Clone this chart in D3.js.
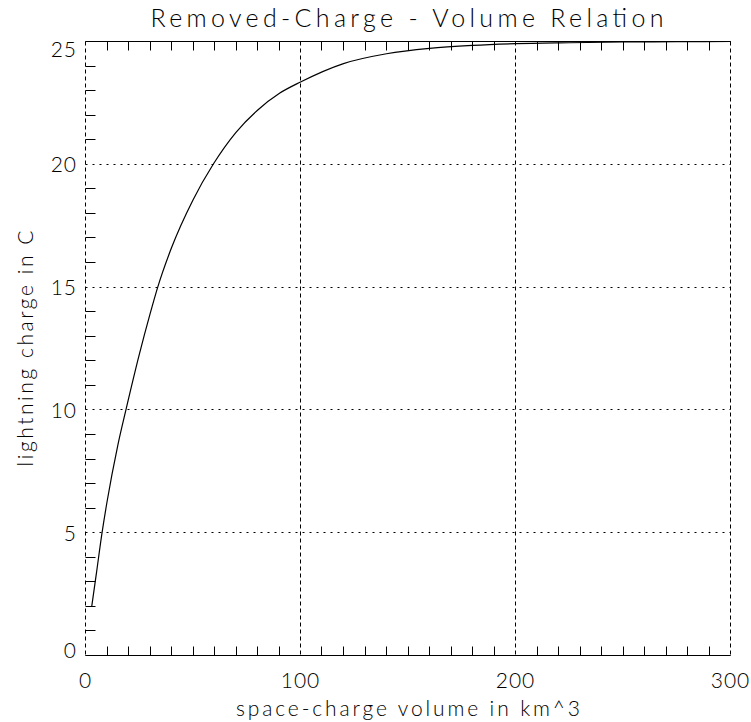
<!DOCTYPE html>
<html>
<head>
<meta charset="utf-8">
<script src="https://cdn.jsdelivr.net/npm/d3@7"></script>
<style>
  html, body { margin: 0; padding: 0; background: #fff; }
  svg { display: block; }
  text { font-family: "Lato", "DejaVu Sans", sans-serif; font-weight: 300; fill: #000; }
</style>
</head>
<body>
<svg id="chart" width="751" height="722"></svg>
<script>
// ---- data ----
const volume = [2.9, 5, 7.7, 10, 15, 18.8, 25, 30, 33.6, 40, 50, 59.4, 70, 80, 90.4, 100, 120, 140, 160, 180, 200, 225, 250, 275, 300];
const charge = [2.0, 3.3, 5.0, 6.25, 8.55, 10.0, 12.25, 13.9, 15.0, 16.6, 18.55, 20.0, 21.3, 22.2, 22.9, 23.35, 24.1, 24.5, 24.72, 24.84, 24.91, 24.95, 24.98, 24.99, 25.0];
const xMajorTicks = [0, 100, 200, 300];
const xMinorTicks = [10,20,30,40,50,60,70,80,90,110,120,130,140,150,160,170,180,190,210,220,230,240,250,260,270,280,290];
const yMajorTicks = [0, 5, 10, 15, 20, 25];
const yMinorTicks = [1,2,3,4,6,7,8,9,11,12,13,14,16,17,18,19,21,22,23,24];
const titleText = "Removed-Charge - Volume Relation";
const xTitleText = "space-charge volume in km^3";
const yTitleText = "lightning charge in C";

// ---- layout ----
const L = 85.5, R = 730.5, T = 41.5, B = 655.5;
const svg = d3.select("#chart");
const x = d3.scaleLinear().domain([0, 300]).range([L, R]);
const y = d3.scaleLinear().domain([0, 25]).range([B, T]);
const px = v => Math.round(v - 0.5) + 0.5;

// horizontal dotted grid (y majors)
svg.append("g").selectAll("line").data(yMajorTicks).join("line")
  .attr("x1", L).attr("x2", R)
  .attr("y1", d => px(y(d))).attr("y2", d => px(y(d)))
  .attr("stroke", "#000").attr("stroke-width", 1).attr("stroke-dasharray", "2,5");

// vertical dashed grid (x majors)
svg.append("g").selectAll("line").data(xMajorTicks).join("line")
  .attr("x1", d => px(x(d))).attr("x2", d => px(x(d)))
  .attr("y1", T).attr("y2", B)
  .attr("stroke", "#000").attr("stroke-width", 1).attr("stroke-dasharray", "4,3");

// bottom and top axis lines
svg.append("line").attr("x1", L).attr("x2", R).attr("y1", B).attr("y2", B)
  .attr("stroke", "#000").attr("stroke-width", 1);
svg.append("line").attr("x1", L).attr("x2", R).attr("y1", T).attr("y2", T)
  .attr("stroke", "#000").attr("stroke-width", 1);

// x minor ticks (bottom & top, inward)
const xt = svg.append("g");
xt.selectAll("line.b").data(xMinorTicks).join("line").attr("class", "b")
  .attr("x1", d => px(x(d))).attr("x2", d => px(x(d)))
  .attr("y1", B).attr("y2", B - 9).attr("stroke", "#000");
xt.selectAll("line.t").data(xMinorTicks).join("line").attr("class", "t")
  .attr("x1", d => px(x(d))).attr("x2", d => px(x(d)))
  .attr("y1", T).attr("y2", T + 9).attr("stroke", "#000");

// y minor ticks (left, inward)
svg.append("g").selectAll("line").data(yMinorTicks).join("line")
  .attr("x1", L).attr("x2", L + 10)
  .attr("y1", d => px(y(d))).attr("y2", d => px(y(d)))
  .attr("stroke", "#000");

// x tick labels
svg.append("g").selectAll("text").data(xMajorTicks).join("text")
  .attr("x", d => x(d)).attr("y", 688)
  .attr("text-anchor", "middle").attr("font-size", 21)
  .attr("letter-spacing", 1)
  .text(d => d);

// y tick labels
svg.append("g").selectAll("text").data(yMajorTicks).join("text")
  .attr("x", 77).attr("y", d => Math.min(Math.max(y(d) + 8, T + 15), B + 2.5))
  .attr("text-anchor", "end").attr("font-size", 21)
  .attr("letter-spacing", 1)
  .text(d => d);

// curve
const line = d3.line().x((d, i) => x(volume[i])).y((d, i) => y(charge[i])).curve(d3.curveMonotoneX);
svg.append("path").datum(volume).attr("d", line)
  .attr("fill", "none").attr("stroke", "#000").attr("stroke-width", 1.2);

// titles
svg.append("text").attr("x", 407).attr("y", 27).attr("text-anchor", "middle")
  .attr("font-size", 25).attr("textLength", 513).attr("lengthAdjust", "spacing")
  .text(titleText);
svg.append("text").attr("x", 408).attr("y", 716).attr("text-anchor", "middle")
  .attr("font-size", 21).attr("textLength", 344).attr("lengthAdjust", "spacing")
  .text(xTitleText);
svg.append("text").attr("transform", "translate(33," + ((T + B) / 2) + ") rotate(-90)")
  .attr("text-anchor", "middle")
  .attr("font-size", 21).attr("textLength", 236).attr("lengthAdjust", "spacing")
  .text(yTitleText);
</script>
</body>
</html>
